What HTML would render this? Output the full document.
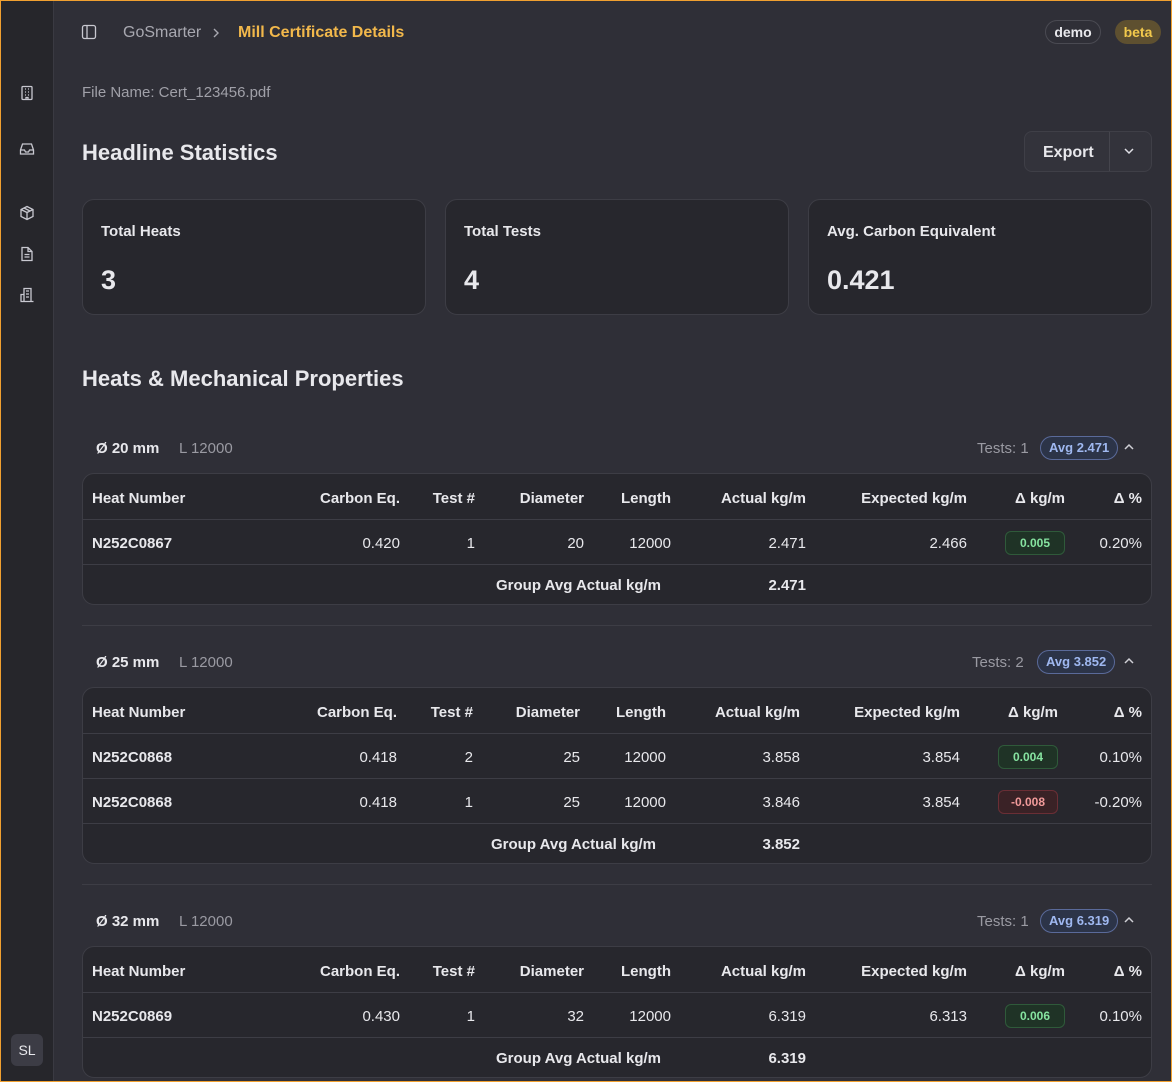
<!DOCTYPE html>
<html><head><meta charset="utf-8">
<style>
*{box-sizing:border-box;margin:0;padding:0}
body{width:1172px;height:1082px;overflow:hidden;background:#2f2f37;font-family:"Liberation Sans",sans-serif;color:#e8e8ec}
#frame{position:absolute;left:0;top:0;width:1172px;height:1082px;border:1.5px solid #f0a030;pointer-events:none;z-index:10}
#side{position:absolute;left:0;top:0;width:54px;height:1082px;background:#26262b;border-right:1px solid #3a3a42}
.ic{position:absolute;left:19px;width:16px;height:16px}
.abs{position:absolute;white-space:nowrap;line-height:20px;height:20px}
.r{text-align:right}
.c{text-align:center}
.b{font-weight:bold}
.card{position:absolute;background:#27272d;border:1px solid #3d3d45;border-radius:12px}
.line{position:absolute;height:1px;background:#3d3d45}
.pill{position:absolute;border-radius:6px;font-size:12px;font-weight:bold;text-align:center;line-height:22px;height:24px;width:60px}
.g{background:#1f3326;border:1px solid #2f5a3a;color:#86e3a0}
.rd{background:#3a2226;border:1px solid #6a2e35;color:#f29a9a}
</style></head><body>
<div id="frame"></div>
<div id="side">
<svg class="ic" style="top:85px" viewBox="0 0 16 16" fill="none" stroke="#c8c8d0" stroke-width="1.3"><rect x="3" y="1.5" width="10" height="13" rx="1"/><path d="M6 4h1M9 4h1M6 7h1M9 7h1M6 10h1M9 10h1M7 14.5v-2h2v2"/></svg>
<svg class="ic" style="top:141px" viewBox="0 0 16 16" fill="none" stroke="#c8c8d0" stroke-width="1.3"><path d="M1.5 9l2-6h9l2 6v4h-13z M1.5 9h4l1 2h3l1-2h4"/></svg>
<svg class="ic" style="top:205px" viewBox="0 0 16 16" fill="none" stroke="#c8c8d0" stroke-width="1.3"><path d="M8 1.5l6 3v7l-6 3-6-3v-7z M2 4.5l6 3 6-3 M8 7.5v7 M5 3l6 3"/></svg>
<svg class="ic" style="top:246px" viewBox="0 0 16 16" fill="none" stroke="#c8c8d0" stroke-width="1.3"><path d="M3 1.5h6l4 4v9H3z M9 1.5v4h4 M5.5 8.5h5M5.5 11h5"/></svg>
<svg class="ic" style="top:287px" viewBox="0 0 16 16" fill="none" stroke="#c8c8d0" stroke-width="1.3"><path d="M5 14.5v-13h7v13z M2 14.5v-7h3 M1.5 14.5h13 M7 4h3M7 7h3M7 10h3"/></svg>
<div style="position:absolute;left:11px;top:1034px;width:32px;height:32px;border-radius:6px;background:#3c3c45;color:#e8e8ec;font-size:14px;line-height:32px;text-align:center">SL</div>
</div>

<svg style="position:absolute;left:81px;top:24px" width="16" height="16" viewBox="0 0 16 16" fill="none" stroke="#c8c8d0" stroke-width="1.3"><rect x="1.5" y="1.5" width="13" height="13" rx="2"/><path d="M6 1.5v13"/></svg>
<div class="abs" style="left:123px;top:23px;font-size:16px;color:#a8a8b0">GoSmarter</div>
<svg style="position:absolute;left:212px;top:27px" width="8" height="12" viewBox="0 0 8 12" fill="none" stroke="#a8a8b0" stroke-width="1.4"><path d="M2 2l4 4-4 4"/></svg>
<div class="abs b" style="left:238px;top:23px;font-size:16px;color:#f2b84b">Mill Certificate Details</div>
<div style="position:absolute;left:1045px;top:20px;width:56px;height:24px;border:1px solid #4a4a52;border-radius:12px;font-size:14px;font-weight:bold;text-align:center;line-height:22px">demo</div>
<div style="position:absolute;left:1115px;top:20px;width:46px;height:24px;background:#5e5030;border-radius:12px;font-size:14px;font-weight:bold;color:#f2c94c;text-align:center;line-height:24px">beta</div>

<div class="abs" style="left:82px;top:83px;font-size:15px;color:#a0a0a8">File Name: Cert_123456.pdf</div>
<div class="abs b" style="left:82px;top:141px;font-size:22px;height:24px;line-height:24px">Headline Statistics</div>
<div style="position:absolute;left:1024px;top:131px;width:128px;height:41px;background:#33333b;border:1px solid #3f3f47;border-radius:8px">
<div class="abs b" style="left:18px;top:11px;font-size:16px">Export</div>
<div style="position:absolute;left:84px;top:0;width:1px;height:39px;background:#45454d"></div>
<svg style="position:absolute;left:98px;top:14px" width="12" height="10" viewBox="0 0 12 10" fill="none" stroke="#e0e0e6" stroke-width="1.5"><path d="M2 3l4 4 4-4"/></svg>
</div>

<div class="card" style="left:82px;top:199px;width:344px;height:116px">
<div class="abs b" style="left:18px;top:22px;font-size:15px">Total Heats</div>
<div class="abs b" style="left:18px;top:65px;font-size:27px;height:30px;line-height:30px">3</div></div>
<div class="card" style="left:445px;top:199px;width:344px;height:116px">
<div class="abs b" style="left:18px;top:22px;font-size:15px">Total Tests</div>
<div class="abs b" style="left:18px;top:65px;font-size:27px;height:30px;line-height:30px">4</div></div>
<div class="card" style="left:808px;top:199px;width:344px;height:116px">
<div class="abs b" style="left:18px;top:22px;font-size:15px">Avg. Carbon Equivalent</div>
<div class="abs b" style="left:18px;top:65px;font-size:27px;height:30px;line-height:30px">0.421</div></div>

<div class="abs b" style="left:82px;top:367px;font-size:22px;height:24px;line-height:24px">Heats &amp; Mechanical Properties</div>

<script>
const diameters=["20","25","32"];
const testCounts=[1,2,1];
const groupAvgs=["2.471","3.852","6.319"];
const heatNums=[["N252C0867"],["N252C0868","N252C0868"],["N252C0869"]];
const carbonEq=[["0.420"],["0.418","0.418"],["0.430"]];
const testNo=[["1"],["2","1"],["1"]];
const actual=[["2.471"],["3.858","3.846"],["6.319"]];
const expected=[["2.466"],["3.854","3.854"],["6.313"]];
const deltaKg=[["0.005"],["0.004","-0.008"],["0.006"]];
const deltaPct=[["0.20%"],["0.10%","-0.20%"],["0.10%"]];
const headers=["Heat Number","Carbon Eq.","Test #","Diameter","Length","Actual kg/m","Expected kg/m","Δ kg/m","Δ %"];

const tops=[448,662,921];
const colsA=[92,400,475,584,671,806,967,1035,1142];
const colsB=[92,397,473,580,666,800,960,1028,1142];
const root=document.body;
function txt(x,y,s,align,extra){
  const d=document.createElement('div');
  d.className='abs'+(extra?' '+extra:'');
  d.style.fontSize='15px';
  if(align==='r'){d.style.left=(x-300)+'px';d.style.width='300px';d.classList.add('r');}
  else d.style.left=x+'px';
  d.style.top=(y-9)+'px';
  d.textContent=s;
  root.appendChild(d);
  return d;
}
diameters.forEach((dia,g)=>{
  const cols=g===1?colsB:colsA;
  const y=tops[g];
  const n=heatNums[g].length;
  const h1=txt(96,y,'Ø '+dia+' mm','l','b');
  
  
  const h2=txt(179,y,'L 12000','l');
  h2.style.color='#9a9aa2';
  
  
  const tc=document.createElement('div');
  tc.className='abs';tc.style.fontSize='15px';tc.style.color='#9a9aa2';
  tc.style.left=(g===1?972:977)+'px';tc.style.top=(y-9)+'px';
  tc.textContent='Tests: '+testCounts[g];
  
  
  root.appendChild(tc);
  const av=document.createElement('div');
  av.style.cssText='position:absolute;height:24px;border:1px solid #5a6a9a;background:#2c3448;color:#9fb8f0;border-radius:12px;font-size:13px;font-weight:bold;line-height:22px;padding:0 8px;white-space:nowrap';
  av.style.left=(g===1?1037:1040)+'px';av.style.top=(y-12)+'px';
  av.textContent='Avg '+groupAvgs[g];
  
  
  root.appendChild(av);
  const ch=document.createElementNS('http://www.w3.org/2000/svg','svg');
  ch.setAttribute('width','12');ch.setAttribute('height','10');
  ch.style.cssText='position:absolute;left:1123px;top:'+(y-6)+'px';
  ch.innerHTML='<path d="M2 7l4-4 4 4" fill="none" stroke="#d0d0d6" stroke-width="1.5"/>';
  
  
  root.appendChild(ch);
  const tTop=y+25;
  const tH=45+45*n+42;
  const card=document.createElement('div');
  card.className='card';
  card.style.left='82px';card.style.top=tTop+'px';card.style.width='1070px';card.style.height=tH+'px';
  
  
  root.appendChild(card);
  const hy=tTop+25;
  headers.forEach((hd,i)=>{
    const el=txt(i===7?cols[i]+30:cols[i],hy,hd,i===0?'l':'r','b');
    
    
  });
  for(let k=0;k<=n;k++){
    const ln=document.createElement('div');ln.className='line';
    ln.style.left='83px';ln.style.width='1068px';ln.style.top=(tTop+46+45*k)+'px';
    
    
    root.appendChild(ln);
  }
  for(let r=0;r<n;r++){
    const ry=tTop+70+45*r;
    const vals=[heatNums[g][r],carbonEq[g][r],testNo[g][r],dia,'12000',actual[g][r],expected[g][r]];
    vals.forEach((v,i)=>{
      const el=txt(cols[i],ry,v,i===0?'l':'r',i===0?'b':'');
      
      
    });
    const p=document.createElement('div');
    p.className='pill '+(deltaKg[g][r].startsWith('-')?'rd':'g');
    p.style.left=(cols[7]-30)+'px';p.style.top=(ry-12)+'px';
    p.textContent=deltaKg[g][r];
    
    
    root.appendChild(p);
    const pc=txt(cols[8],ry,deltaPct[g][r],'r');
    
    
  }
  const fy=tTop+45+45*n+22;
  const fl=txt(cols[4]-10,fy,'Group Avg Actual kg/m','r','b');
  
  
  const fv=txt(cols[5],fy,groupAvgs[g],'r','b');
  
  
  if(g<2){
    const sep=document.createElement('div');sep.className='line';
    sep.style.left='82px';sep.style.width='1070px';sep.style.top=(tTop+tH+20)+'px';
    
    
    root.appendChild(sep);
  }
});
</script>
</body></html>
